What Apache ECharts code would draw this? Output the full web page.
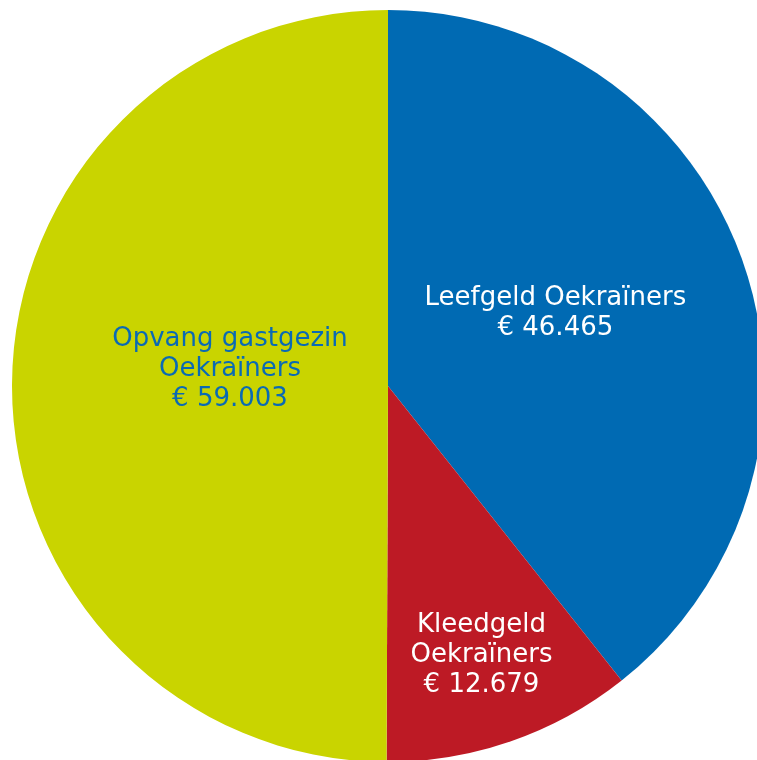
<!DOCTYPE html>
<html>
<head>
<meta charset="utf-8">
<script src="https://cdn.jsdelivr.net/npm/echarts@6/dist/echarts.min.js"></script>
<style>html,body{margin:0;padding:0;background:#fff}#c{width:757px;height:760px}</style>
</head>
<body>
<div id="c"></div>
<script>
var categories = ['Leefgeld Oekraïners', 'Kleedgeld\nOekraïners', 'Opvang gastgezin\nOekraïners'];
var values = [46465, 12679, 59003];
var valueLabels = ['€ 46.465', '€ 12.679', '€ 59.003'];
var colors = ['#006AB3', '#BD1A25', '#C9D400'];
var labelColors = ['#FFFFFF', '#FFFFFF', '#0A6AB4'];
var labelOffsets = [[-13, -10], [31, 89], [33, -16]];

var chart = echarts.init(document.getElementById('c'), null, {renderer: 'canvas'});
var data = categories.map(function (c, i) {
  return {
    name: c,
    value: values[i],
    itemStyle: {color: colors[i]},
    label: {color: labelColors[i], offset: labelOffsets[i], formatter: c + '\n' + valueLabels[i]}
  };
});
chart.setOption({
  animation: false,
  series: [{
    type: 'pie',
    center: [388, 386],
    radius: [0, 376],
    startAngle: 90,
    clockwise: true,
    avoidLabelOverlap: false,
    itemStyle: {borderWidth: 0},
    label: {
      show: true,
      position: 'inside',
      fontFamily: 'DejaVu Sans',
      fontSize: 26,
      lineHeight: 30,
      align: 'center'
    },
    labelLine: {show: false},
    emphasis: {disabled: true},
    data: data
  }]
});
</script>
</body>
</html>
